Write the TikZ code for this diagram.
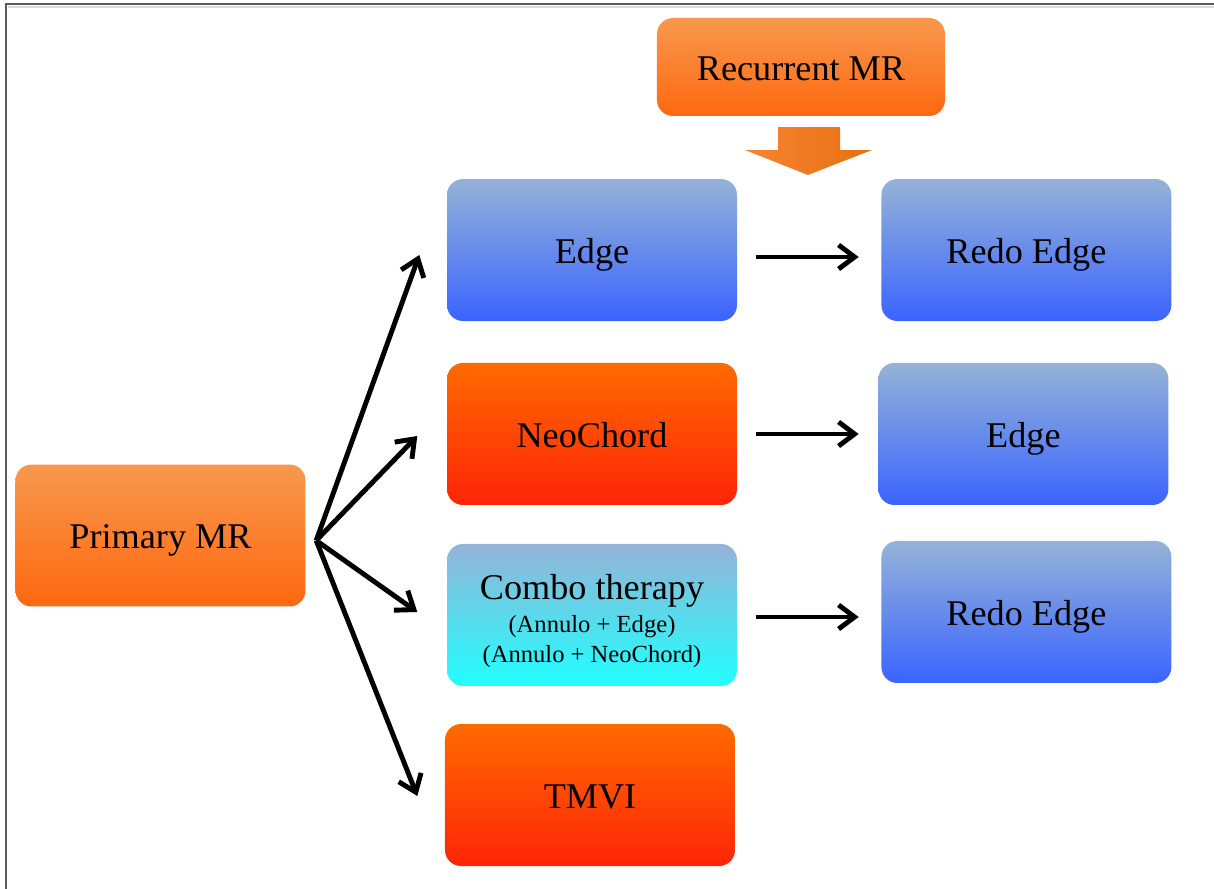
\documentclass[tikz,border=0pt]{standalone}
\usepackage{fontspec}
\setmainfont{Liberation Serif}
\usepackage{xcolor}
\usetikzlibrary{positioning,arrows.meta}

\definecolor{orangetop}{RGB}{247,152,78}
\definecolor{orangebot}{RGB}{255,104,16}
\definecolor{redtop}{RGB}{255,106,0}
\definecolor{redbot}{RGB}{255,36,8}
\definecolor{bluetop}{RGB}{149,179,215}
\definecolor{bluebot}{RGB}{58,100,255}
\definecolor{cyanbot}{RGB}{32,255,255}
\definecolor{arrowleft}{RGB}{246,132,52}
\definecolor{arrowright}{RGB}{232,112,14}
\definecolor{framegray}{RGB}{90,90,90}

\newcommand{\subline}[1]{{\fontsize{7}{8.5}\selectfont #1}}

\begin{document}
\begin{tikzpicture}[
            node distance=1.43cm,
            boxbase/.style={rounded corners=0.16cm, minimum width=2.9cm, minimum height=1.42cm, inner sep=2pt, align=center, font=\fontsize{10.3}{12}\selectfont},
            box/.style={boxbase, text height=9.6pt, text depth=2.2pt},
            orangebox/.style={box, top color=orangetop, bottom color=orangebot},
            redbox/.style={box, top color=redtop, bottom color=redbot},
            bluebox/.style={box, top color=bluetop, bottom color=bluebot},
            combobox/.style={boxbase, top color=bluetop, bottom color=cyanbot},
            link/.style={line width=1.4pt, draw=black, -{Straight Barb[length=1.6mm, width=2.4mm, line width=1.4pt]}}
        ]
        \useasboundingbox (0,0) rectangle (12.14,-8.89);

        % Frame (top and left edge only)
        \draw[framegray, line width=0.025cm] (0.06,-8.89) -- (0.06,-0.04) -- (12.14,-0.04);
        \draw[black!15, line width=0.015cm] (0.08,-0.07) -- (12.14,-0.07);

        % Left and middle column
        \node[orangebox] (primary) at (1.605,-5.355) {Primary MR};
        \node[bluebox] (edge) at (5.92,-2.50) {Edge};
        \node[redbox] (neochord) at (5.92,-4.34) {NeoChord};
        \node[combobox] (combo) at (5.92,-6.15) {\rule{0pt}{10.7pt}Combo therapy\\[-2.6pt]
            \subline{(Annulo + Edge)}\\[-3.5pt]\subline{(Annulo + NeoChord)}};
        \node[redbox] (tmvi) at (5.90,-7.95) {TMVI};

        % Right column
        \node[bluebox] (redoA) [right=of edge] {Redo Edge};
        \node[bluebox] (edgeB) [right=1.40cm of neochord] {Edge};
        \node[bluebox] (redoB) [right=of combo, yshift=0.03cm] {Redo Edge};

        % Recurrent MR with big arrow
        \node[orangebox, minimum width=2.88cm, minimum height=0.98cm] (recurrent) at (8.01,-0.67) {Recurrent MR};
        \shade[left color=arrowleft, right color=arrowright]
            (7.78,-1.27) -- (8.40,-1.27) -- (8.40,-1.50) -- (8.72,-1.50)
            -- (8.08,-1.75) -- (7.45,-1.50) -- (7.78,-1.50) -- cycle;

        % Fan of options
        \coordinate (fan) at ([shift={(0.10,-0.05)}]primary.east);
        \draw[link] (fan) -- ([shift={(-0.27,-0.05)}]edge.west);
        \draw[link] (fan) -- ([shift={(-0.29,-0.02)}]neochord.west);
        \draw[link] (fan) -- ([shift={(-0.29,0.03)}]combo.west);
        \draw[link] (fan) -- ([shift={(-0.27,-0.01)}]tmvi.west);

        % Redo paths
        \draw[link] ([shift={(0.18,-0.07)}]edge.east) -- ([shift={(-0.22,-0.07)}]redoA.west);
        \draw[link] ([shift={(0.18,0)}]neochord.east) -- ([shift={(-0.19,0)}]edgeB.west);
        \draw[link] ([shift={(0.18,-0.02)}]combo.east) -- ([shift={(-0.22,-0.05)}]redoB.west);

        \end{tikzpicture}
\end{document}
